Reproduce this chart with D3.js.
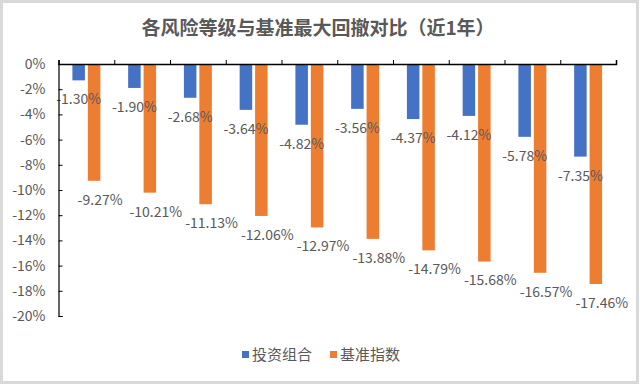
<!DOCTYPE html>
<html>
<head>
<meta charset="utf-8">
<script src="https://cdn.jsdelivr.net/npm/d3@7"></script>
<style>
  body { margin: 0; background: #fff; }
  text { font-family: "Noto Sans CJK SC", "Noto Sans", sans-serif; }
</style>
</head>
<body>
<div id="chart"></div>
<script>
// Data
const riskLevels = ['1', '2', '3', '4', '5', '6', '7', '8', '9', '10']
const seriesNames = ['投资组合', '基准指数']
const portfolio = [-1.30, -1.90, -2.68, -3.64, -4.82, -3.56, -4.37, -4.12, -5.78, -7.35]
const benchmark = [-9.27, -10.21, -11.13, -12.06, -12.97, -13.88, -14.79, -15.68, -16.57, -17.46]
const yTicks = [0, -2, -4, -6, -8, -10, -12, -14, -16, -18, -20]
const title = '各风险等级与基准最大回撤对比（近1年）'

const colors = { '投资组合': '#4472C4', '基准指数': '#ED7D31' }
const textColor = '#595959'

// Dimensions
const width = 640
const height = 385
const margin = { top: 64, right: 24, bottom: 69, left: 58.5 }
const innerWidth = width - margin.left - margin.right
const innerHeight = height - margin.top - margin.bottom

const svg = d3.select('#chart')
  .append('svg')
  .attr('width', width)
  .attr('height', height)

// Frame
svg.append('rect')
  .attr('x', 1.5)
  .attr('y', 1.5)
  .attr('width', width - 4)
  .attr('height', height - 4)
  .attr('fill', '#fff')
  .attr('stroke', '#d9d9d9')
  .attr('stroke-width', 3)

// Title
svg.append('text')
  .attr('x', 318)
  .attr('y', 35)
  .attr('text-anchor', 'middle')
  .attr('font-size', 19)
  .attr('font-weight', 'bold')
  .attr('fill', textColor)
  .text(title)

const g = svg.append('g')
  .attr('transform', `translate(${margin.left}, ${margin.top})`)

// Scales
const xScale = d3.scaleBand().domain(riskLevels).range([0, innerWidth])
const xSub = d3.scaleBand().domain(seriesNames)
  .range([0, xScale.bandwidth()])
  .paddingInner(0.19)
  .paddingOuter(0.9)
const yScale = d3.scaleLinear().domain([0, -20]).range([0, innerHeight])

const rows = riskLevels.map((r, i) => ({ level: r, values: [portfolio[i], benchmark[i]] }))

// Bars
const groups = g.selectAll('.grp')
  .data(rows)
  .enter().append('g')
  .attr('transform', d => `translate(${xScale(d.level)}, 0)`)

groups.selectAll('rect')
  .data(d => seriesNames.map((s, k) => ({ series: s, value: d.values[k] })))
  .enter().append('rect')
  .attr('x', d => xSub(d.series))
  .attr('y', yScale(0))
  .attr('width', xSub.bandwidth())
  .attr('height', d => yScale(d.value) - yScale(0))
  .attr('fill', d => colors[d.series])

// Data labels
groups.selectAll('.lbl')
  .data(d => seriesNames.map((s, k) => ({ series: s, value: d.values[k] })))
  .enter().append('text')
  .attr('x', d => xSub(d.series) + xSub.bandwidth() / 2 + (d.series === '基准指数' ? 6 : 0))
  .attr('y', d => yScale(d.value) + 19)
  .attr('dy', '0.35em')
  .attr('text-anchor', 'middle')
  .attr('font-size', 14)
  .attr('fill', textColor)
  .text(d => d.value.toFixed(2) + '%')

// Left axis
const yAxis = g.append('g')
  .call(d3.axisRight(yScale).tickValues(yTicks).tickSize(4).tickFormat(''))
yAxis.select('.domain').attr('stroke', '#000').attr('stroke-width', 1.2)
yAxis.selectAll('.tick line').attr('stroke', '#000')

g.selectAll('.ylabel')
  .data(yTicks)
  .enter().append('text')
  .attr('x', -13)
  .attr('y', d => yScale(d))
  .attr('dy', '0.35em')
  .attr('text-anchor', 'end')
  .attr('font-size', 14)
  .attr('fill', textColor)
  .text(d => d + '%')

// Top (category) axis at 0%
const xAxis = g.append('g')
  .call(d3.axisTop(d3.scaleLinear().domain([0, riskLevels.length]).range([0, innerWidth]))
    .ticks(riskLevels.length)
    .tickSize(4)
    .tickSizeOuter(4)
    .tickFormat(''))
xAxis.select('.domain').attr('stroke', '#000').attr('stroke-width', 1.5)
xAxis.selectAll('.tick line').attr('stroke', '#000')

// Legend
const legend = svg.append('g')
  .attr('transform', 'translate(242, 355)')

const legendItems = legend.selectAll('g')
  .data(seriesNames)
  .enter().append('g')
  .attr('transform', (d, i) => `translate(${i * 88}, 0)`)

legendItems.append('rect')
  .attr('x', 0)
  .attr('y', -4)
  .attr('width', 7)
  .attr('height', 7)
  .attr('fill', d => colors[d])

legendItems.append('text')
  .attr('x', 10)
  .attr('y', 0)
  .attr('dy', '0.35em')
  .attr('font-size', 15)
  .attr('fill', textColor)
  .text(d => d)
</script>
</body>
</html>
